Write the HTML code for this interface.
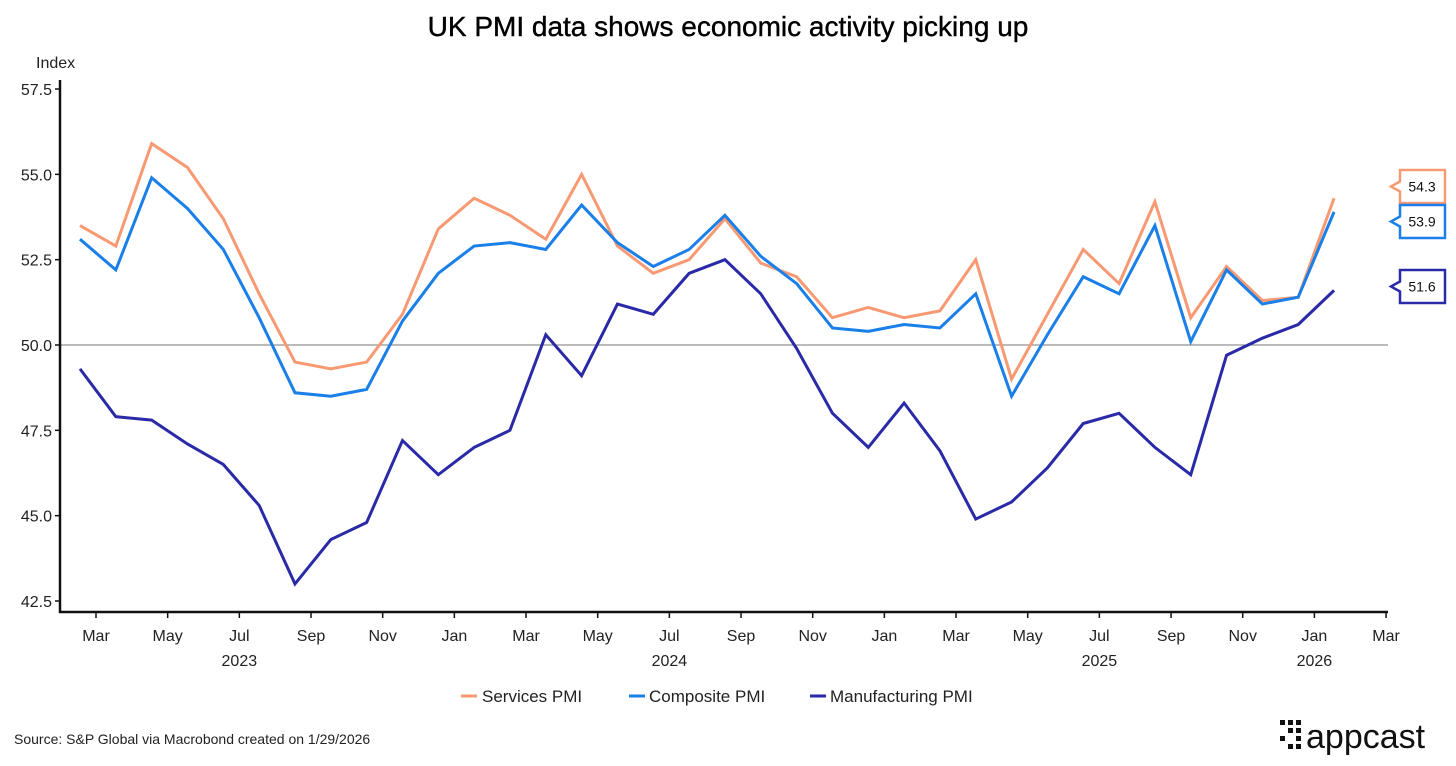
<!DOCTYPE html>
<html><head><meta charset="utf-8"><style>
body{margin:0;background:#fff;width:1456px;height:761px;overflow:hidden;font-family:"Liberation Sans",sans-serif}
</style></head><body>
<svg id="chart" width="1456" height="761" xmlns="http://www.w3.org/2000/svg" font-family="Liberation Sans, sans-serif">
<text x="728" y="36" text-anchor="middle" font-size="28" fill="#000" stroke="#000" stroke-width="0.4">UK PMI data shows economic activity picking up</text>
<text x="36" y="68" font-size="16" fill="#222">Index</text>
<g id="yaxis"></g><g id="xaxis"></g><g id="series"></g><g id="callouts"></g>
<g font-size="17" fill="#222">
<line x1="461" y1="696" x2="477" y2="696" stroke="#f79a73" stroke-width="3"/><text x="482" y="702">Services PMI</text>
<line x1="629" y1="696" x2="645" y2="696" stroke="#1a7fe8" stroke-width="3"/><text x="649" y="702">Composite PMI</text>
<line x1="810" y1="696" x2="826" y2="696" stroke="#2a2aa8" stroke-width="3"/><text x="830" y="702">Manufacturing PMI</text>
</g>
<text x="14" y="744" font-size="14" fill="#222">Source: S&amp;P Global via Macrobond created on 1/29/2026</text>
<g>
<g fill="#111"><rect x="1280" y="720" width="5" height="5"/><rect x="1288" y="720" width="5" height="5"/><rect x="1296" y="720" width="5" height="5"/><rect x="1288" y="728" width="5" height="5"/><rect x="1296" y="728" width="5" height="5"/><rect x="1280" y="736" width="5" height="5"/><rect x="1296" y="736" width="5" height="5"/><rect x="1288" y="744" width="5" height="5"/><rect x="1296" y="744" width="5" height="5"/></g>
<text x="1306" y="748" font-size="34" fill="#111">appcast</text>
</g>
</svg>
<script>
const monthLabels=["Mar","May","Jul","Sep","Nov","Jan","Mar","May","Jul","Sep","Nov","Jan","Mar","May","Jul","Sep","Nov","Jan","Mar"];
const yearLabels=["2023","2024","2025","2026"];
const yTicks=[42.5,45.0,47.5,50.0,52.5,55.0,57.5];
const services=[53.5,52.9,55.9,55.2,53.7,51.5,49.5,49.3,49.5,50.9,53.4,54.3,53.8,53.1,55.0,52.9,52.1,52.5,53.7,52.4,52.0,50.8,51.1,50.8,51.0,52.5,49.0,50.9,52.8,51.8,54.2,50.8,52.3,51.3,51.4,54.3];
const composite=[53.1,52.2,54.9,54.0,52.8,50.8,48.6,48.5,48.7,50.7,52.1,52.9,53.0,52.8,54.1,53.0,52.3,52.8,53.8,52.6,51.8,50.5,50.4,50.6,50.5,51.5,48.5,50.3,52.0,51.5,53.5,50.1,52.2,51.2,51.4,53.9];
const manufacturing=[49.3,47.9,47.8,47.1,46.5,45.3,43.0,44.3,44.8,47.2,46.2,47.0,47.5,50.3,49.1,51.2,50.9,52.1,52.5,51.5,49.9,48.0,47.0,48.3,46.9,44.9,45.4,46.4,47.7,48.0,47.0,46.2,49.7,50.2,50.6,51.6];
const NS="http://www.w3.org/2000/svg";
const y=v=>345-(v-50)*34.13;
const x=i=>80+i*35.83;
const tx=k=>96+k*71.67;
function mk(t,a,p){const e=document.createElementNS(NS,t);for(const k in a)e.setAttribute(k,a[k]);p.appendChild(e);return e;}
const ya=document.getElementById('yaxis'),xa=document.getElementById('xaxis'),sg=document.getElementById('series'),cg=document.getElementById('callouts');
yTicks.forEach(v=>{
 const t=mk('text',{x:52,y:y(v)+6,'text-anchor':'end','font-size':16,fill:'#222'},ya);t.textContent=v.toFixed(1);
 
 
 mk('line',{x1:55,x2:60,y1:y(v),y2:y(v),stroke:'#111','stroke-width':1.5},ya);
});
const zl=mk('line',{x1:60,x2:1388,y1:y(50),y2:y(50),stroke:'#777','stroke-width':1},ya);


const yl=mk('line',{x1:60,x2:60,y1:80,y2:613,stroke:'#111','stroke-width':2.5},ya);


const xl=mk('line',{x1:59,x2:1388,y1:612,y2:612,stroke:'#111','stroke-width':2.5},xa);


monthLabels.forEach((m,k)=>{
 mk('line',{x1:tx(k),x2:tx(k),y1:612,y2:618,stroke:'#111','stroke-width':1.5},xa);
 const t=mk('text',{x:tx(k),y:641,'text-anchor':'middle','font-size':16,fill:'#222'},xa);t.textContent=m;
 
 
});
const yearX=[tx(2),tx(8),tx(14),tx(17)];
yearLabels.forEach((yr,k)=>{
 const t=mk('text',{x:yearX[k],y:666,'text-anchor':'middle','font-size':16,fill:'#222'},xa);t.textContent=yr;
 
 
});
const defs=[[services,'#f79a73','services-line'],[composite,'#1a7fe8','composite-line'],[manufacturing,'#2a2aa8','manufacturing-line']];
defs.forEach(([d,c,n])=>{
 const p=mk('polyline',{points:d.map((v,i)=>x(i)+','+y(v)).join(' '),fill:'none',stroke:c,'stroke-width':3,'stroke-linejoin':'miter'},sg);
 
 
});
const boxY=[170,205,270];
defs.forEach(([d,c,n],k)=>{
 const v=d[d.length-1],t0=boxY[k],b=t0+33;
 const g=mk('g',{},cg);
 
 
 mk('path',{d:`M1400 ${t0}H1445V${b}H1400V${(t0+b)/2+5}L1391 ${(t0+b)/2}L1400 ${(t0+b)/2-5}Z`,fill:'#fff',stroke:c,'stroke-width':2.5},g);
 const t=mk('text',{x:1422,y:(t0+b)/2+5,'text-anchor':'middle','font-size':14,fill:'#111'},g);t.textContent=v.toFixed(1);
});
</script>
</body></html>
